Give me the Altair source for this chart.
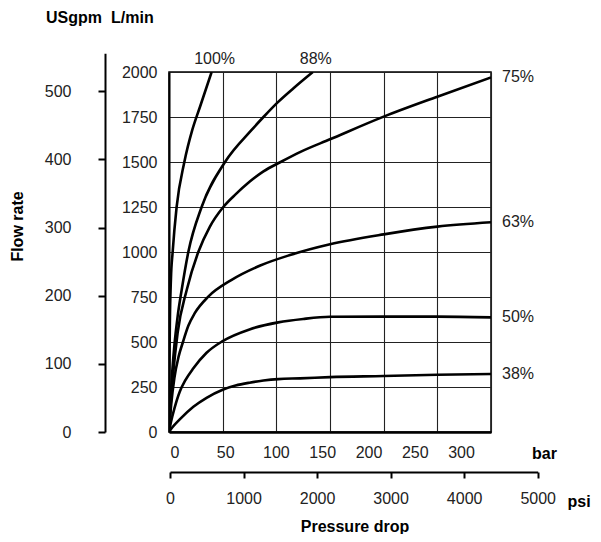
import altair as alt
import pandas as pd

FONT = "Liberation Sans, Arial, sans-serif"

# ---- data (bar, L/min) ----
series_names = ["100%", "88%", "75%", "63%", "50%", "38%"]

bar_100 = [0, 0.3, 0.8, 1.8, 3.4, 7.1, 14.3, 21.7, 28.9, 39.7]
flow_100 = [0, 300, 600, 850, 1000, 1250, 1500, 1678, 1807, 2000]

bar_88 = [0, 1, 2.5, 5, 8, 11.8, 18, 30.4, 52.2, 77, 88, 101, 116, 134]
flow_88 = [0, 130, 290, 480, 640, 789, 1000, 1250, 1500, 1678, 1750, 1830, 1910, 2000]

bar_75 = [0, 1.5, 3.5, 8, 16.5, 27.3, 38, 50.6, 62, 75, 88, 104, 122, 150, 200, 250, 300]
flow_75 = [0, 150, 300, 550, 789, 1000, 1140, 1250, 1320, 1390, 1448, 1500, 1555, 1626, 1752,
           1863, 1970]

bar_63 = [0, 2, 5, 9, 13, 18, 24, 36.6, 58, 85, 112.7, 150, 200, 250, 300]
flow_63 = [0, 150, 300, 420, 500, 590, 660, 752, 844, 925, 983, 1043, 1098, 1141, 1165]

bar_50 = [0, 2, 5, 10, 15, 22.7, 35, 50, 75, 101.8, 125, 150, 200, 250, 300]
flow_50 = [0, 60, 130, 224, 285, 354, 440, 505, 570, 609, 628, 640, 641, 641, 637]

bar_38 = [0, 3, 10, 22.7, 35, 50, 62, 75, 88, 101.8, 122, 150, 200, 250, 300]
flow_38 = [0, 25, 70, 140, 190, 235, 258, 274, 286, 294, 298, 305, 311, 318, 322]

top_labelled = ["100%", "88%"]

bar_ticks = [0, 50, 100, 150, 200, 250, 300]
flow_ticks = [0, 250, 500, 750, 1000, 1250, 1500, 1750, 2000]
psi_ticks = [0, 1000, 2000, 3000, 4000, 5000]
gpm_ticks = [0, 100, 200, 300, 400, 500]

# ---- build tables ----
rows = []
for name, xs_, ys_ in zip(series_names,
                          [bar_100, bar_88, bar_75, bar_63, bar_50, bar_38],
                          [flow_100, flow_88, flow_75, flow_63, flow_50, flow_38]):
    for i, (a, b) in enumerate(zip(xs_, ys_)):
        rows.append({"series": name, "bar": a, "flow": b, "i": i})
df = pd.DataFrame(rows)
last = df.groupby("series", sort=False).tail(1)
top_df = last[last["series"].isin(top_labelled)]
right_df = last[~last["series"].isin(top_labelled)]

xs = alt.Scale(domain=[0, 300], nice=False, zero=False)
ys = alt.Scale(domain=[0, 2000], nice=False)

curves = alt.Chart(df).mark_line(
    color="black", strokeWidth=2.6, interpolate="monotone", clip=True
).encode(
    x=alt.X("bar:Q", scale=xs, axis=alt.Axis(
        orient="bottom", values=bar_ticks, grid=True, labels=False, ticks=False,
        tickSize=0, domain=True, domainWidth=2.6, domainColor="black",
        gridColor="#222", gridWidth=1.1, title=None)),
    y=alt.Y("flow:Q", scale=ys, axis=alt.Axis(
        orient="left", values=flow_ticks, grid=True, ticks=False, tickSize=0,
        domain=True, domainWidth=2, domainColor="black", format="d",
        gridColor="#222", gridWidth=1.1, labelPadding=12, title=None)),
    detail="series:N",
    order="i:Q",
)

top_text = alt.Chart(top_df).mark_text(
    align="center", baseline="middle", dy=-13, dx=3, font=FONT, fontSize=16, color="#222"
).encode(
    x=alt.X("bar:Q", scale=xs, axis=None),
    y=alt.Y("flow:Q", scale=ys, axis=None),
    text="series:N",
)

right_text = alt.Chart(right_df).mark_text(
    align="left", baseline="middle", dx=11, font=FONT, fontSize=16, color="#222"
).encode(
    x=alt.X("bar:Q", scale=xs, axis=None),
    y=alt.Y("flow:Q", scale=ys, axis=None),
    text="series:N",
)

bar_axis = alt.Chart(pd.DataFrame({"v": bar_ticks})).mark_point(opacity=0).encode(
    x=alt.X("v:Q", scale=alt.Scale(domain=[0, 300], range=[1, 278.7], nice=False, zero=False),
            axis=alt.Axis(orient="bottom", values=bar_ticks, domain=False, ticks=False,
                          tickSize=0, grid=False, labelAlign="left", labelPadding=12,
                          format="d",
                          title="bar", titleX=362.5, titleY=26, titleAlign="left",
                          titleBaseline="alphabetic", titleAnchor="start")),
)

psi_axis = alt.Chart(pd.DataFrame({"p": psi_ticks})).mark_point(opacity=0).encode(
    x=alt.X("p:Q", scale=alt.Scale(domain=[0, 5000], range=[1, 368.7], nice=False, zero=False),
            axis=alt.Axis(orient="bottom", offset=40, values=psi_ticks, domain=True,
                          domainWidth=2, domainColor="black", ticks=True, tickSize=6,
                          tickWidth=2, tickColor="black", grid=False, labelPadding=12.5,
                          format="d",
                          title="psi", titleX=398, titleY=34.5, titleAlign="left",
                          titleBaseline="alphabetic", titleAnchor="start")),
)

gpm_axis = alt.Chart(pd.DataFrame({"g": gpm_ticks})).mark_point(opacity=0).encode(
    y=alt.Y("g:Q", scale=alt.Scale(domain=[0, 556], range=[360, -18.8], nice=False),
            axis=alt.Axis(orient="left", offset=64, values=gpm_ticks, domain=True,
                          domainWidth=2, domainColor="black", ticks=True, tickSize=7,
                          tickWidth=2, tickColor="black", grid=False, labelPadding=27,
                          format="d",
                          title="Flow rate", titleX=-88, titleY=154, titleAngle=-90,
                          titleAlign="center", titleBaseline="middle")),
)

def label(txt, x, y, align="left", weight="bold"):
    return alt.Chart(pd.DataFrame({"t": [txt]})).mark_text(
        align=align, baseline="alphabetic", font=FONT, fontSize=16,
        fontWeight=weight, color="black"
    ).encode(text="t:N", x=alt.value(x), y=alt.value(y))

t_gpm = label("USgpm", -123, -49.3)
t_lmin = label("L/min", -58, -49.3)
t_press = label("Pressure drop", 186, 460, align="center")

chart = alt.layer(
    curves, top_text, right_text, bar_axis, psi_axis, gpm_axis, t_gpm, t_lmin, t_press
).resolve_scale(
    x="independent", y="independent"
).properties(
    width=322, height=360,
    autosize=alt.AutoSizeParams(type="none"),
    padding={"left": 161, "top": 64, "right": 102, "bottom": 102},
).configure_view(
    stroke="black", strokeWidth=1.5
).configure_axis(
    labelFont=FONT, labelFontSize=16, labelColor="#222", labelFlush=False,
    labelOverlap=False, titleFont=FONT, titleFontSize=16, titleFontWeight="bold",
    titleColor="black"
)

chart.save("out.html", embed_options={"renderer": "svg", "actions": False})
